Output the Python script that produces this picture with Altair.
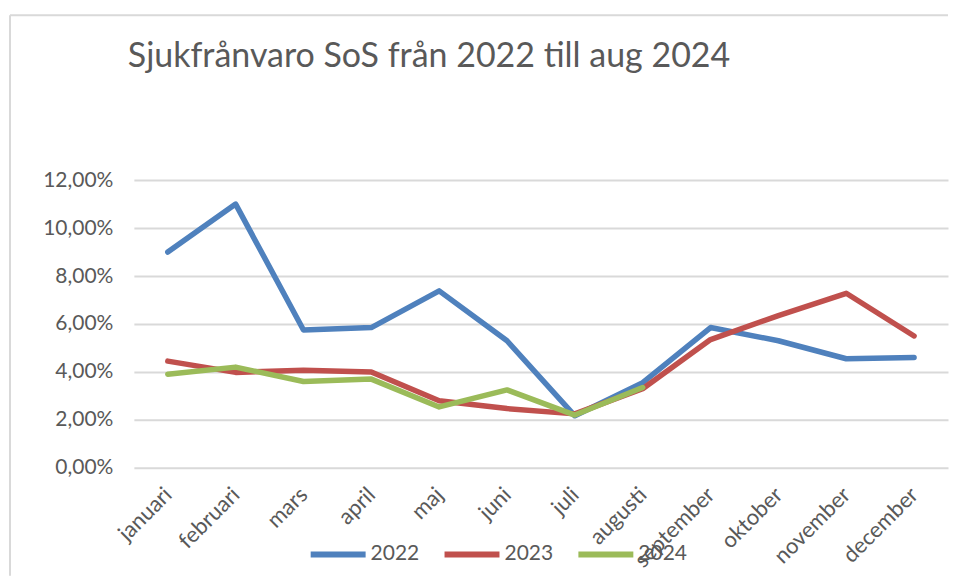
import altair as alt
import pandas as pd

months = ["januari", "februari", "mars", "april", "maj", "juni", "juli",
          "augusti", "september", "oktober", "november", "december"]
years = ["2022", "2023", "2024"]
v2022 = [9.00, 11.00, 5.75, 5.85, 7.38, 5.30, 2.17, 3.55, 5.85, 5.30, 4.55, 4.60]
v2023 = [4.45, 3.98, 4.07, 4.00, 2.80, 2.47, 2.25, 3.30, 5.35, 6.35, 7.28, 5.50]
v2024 = [3.90, 4.20, 3.60, 3.70, 2.54, 3.25, 2.20, 3.35]
colors = ["#4F81BD", "#C0504D", "#9BBB59"]
y_ticks = [0, 0.02, 0.04, 0.06, 0.08, 0.10, 0.12]

rows = []
for year, vals in zip(years, [v2022, v2023, v2024]):
    for m, v in zip(months, vals):
        rows.append({"month": m, "year": year, "value": v / 100})
df = pd.DataFrame(rows)

W, H = 815, 288
FONT = "Lato"
GREY = "#595959"

lines = alt.Chart(df).mark_line(strokeWidth=5.5, strokeCap="round", strokeJoin="round").encode(
    x=alt.X("month:N", sort=months,
            scale=alt.Scale(domain=months, type="point", padding=0.5),
            axis=alt.Axis(title=None, domain=False, ticks=False, grid=False,
                          labelAngle=-45, labelAlign="right", labelBaseline="middle",
                          labelPadding=23, labelFontSize=22, labelFont=FONT,
                          labelColor=GREY)),
    y=alt.Y("value:Q", scale=alt.Scale(domain=[0, 0.12], nice=False),
            axis=alt.Axis(title=None, domain=False, ticks=False, values=y_ticks,
                          labelExpr="replace(format(datum.value, '.2%'), '.', ',')",
                          labelPadding=21, labelFontSize=21, labelFont=FONT,
                          labelColor=GREY, gridColor="#d9d9d9", gridWidth=2)),
    color=alt.Color("year:N", scale=alt.Scale(domain=years, range=colors),
                    legend=alt.Legend(orient="none", legendX=174, legendY=344,
                                      direction="horizontal", title=None,
                                      symbolType="stroke", symbolSize=3025,
                                      symbolStrokeWidth=6, labelFontSize=21,
                                      labelFont=FONT, labelColor=GREY,
                                      labelOffset=2, columnPadding=13, padding=0)),
    order=alt.Order("year:N"),
)

frame_data = alt.Data(values=[{"k": 1}])
top_rule = alt.Chart(frame_data).mark_rule(color="#d9d9d9", strokeWidth=2).encode(
    x=alt.value(-124), x2=alt.value(W), y=alt.value(-165))
left_rule = alt.Chart(frame_data).mark_rule(color="#d9d9d9", strokeWidth=2).encode(
    x=alt.value(-124), y=alt.value(-165), y2=alt.value(396))

chart = alt.layer(top_rule, left_rule, lines).properties(
    width=W, height=H,
    padding={"left": 1, "top": 6, "right": 0, "bottom": 0},
    title=alt.TitleParams("Sjukfrånvaro SoS från 2022 till aug 2024",
                          anchor="start", frame="group", fontSize=34, font=FONT,
                          fontWeight="normal", color=GREY, offset=-60, dx=-6),
).configure_view(stroke=None)

chart.save("out.html", embed_options={"renderer": "svg", "actions": False})
